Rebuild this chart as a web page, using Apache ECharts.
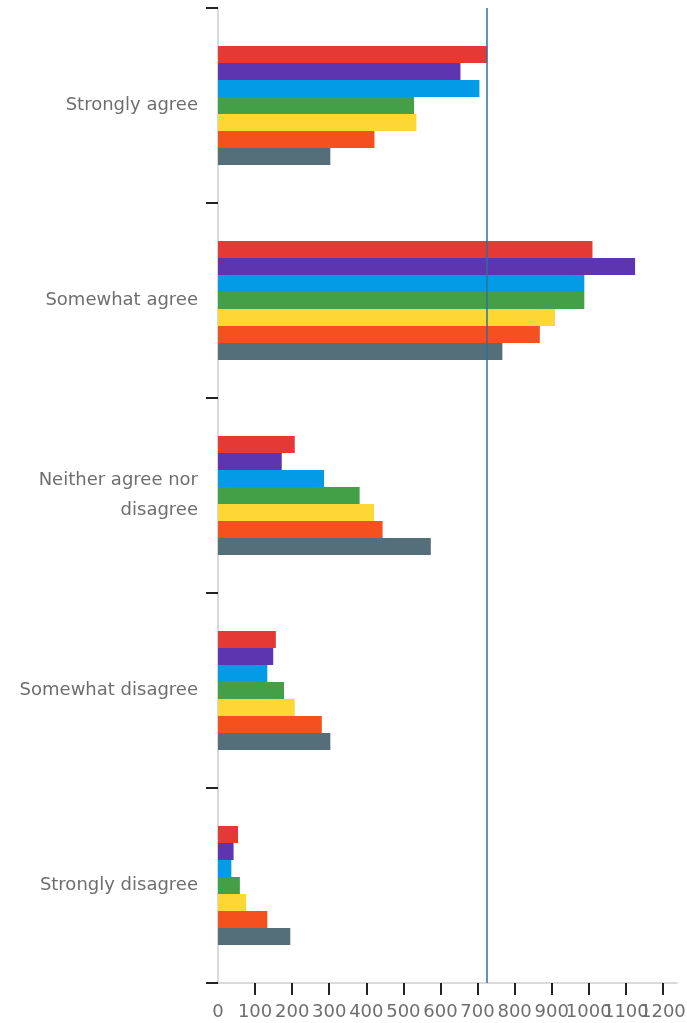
<!DOCTYPE html>
<html>
<head>
<meta charset="utf-8">
<script src="https://cdn.jsdelivr.net/npm/echarts@6/dist/echarts.min.js"></script>
<style>
html,body{margin:0;padding:0;background:#fff;}
#chart{width:687px;height:1023px;}
</style>
</head>
<body>
<div id="chart"></div>
<script>
const categories = ["Strongly agree", "Somewhat agree", "Neither agree nor disagree", "Somewhat disagree", "Strongly disagree"];
const seriesNames = ["S1", "S2", "S3", "S4", "S5", "S6", "S7"];
const s1 = [726, 1010, 207, 156, 54];
const s2 = [654, 1125, 172, 149, 42];
const s3 = [705, 988, 286, 133, 36];
const s4 = [529, 988, 382, 178, 59];
const s5 = [535, 909, 421, 207, 76];
const s6 = [422, 868, 444, 280, 133];
const s7 = [303, 767, 574, 303, 195];
const tickLabels = [0, 100, 200, 300, 400, 500, 600, 700, 800, 900, 1000, 1100, 1200];
const tickMarks = [100, 200, 300, 400, 500, 600, 700, 800, 900, 1000, 1100, 1200];
const referenceLine = 725;
const axisMax = 1238;

const colors = ["#e53935", "#5e35b1", "#039be5", "#43a047", "#fdd835", "#f4511e", "#546e7a"];
const allSeries = [s1, s2, s3, s4, s5, s6, s7];

const chart = echarts.init(document.getElementById('chart'), null, {renderer: 'canvas'});
const textStyle = {color: '#6e6e6e', fontFamily: 'DejaVu Sans', fontSize: 18};

// labels split over two overlaid axes so that touching labels are all kept
const labelsEven = tickLabels.filter((v, i) => i % 2 === 0);
const labelsOdd = tickLabels.filter((v, i) => i % 2 === 1);

const series = allSeries.map((d, i) => {
  const s = {
    name: seriesNames[i],
    type: 'bar',
    data: d,
    barGap: '0%',
    barCategoryGap: '39%',
    itemStyle: {color: colors[i]},
    emphasis: {disabled: true}
  };
  if (i === 0) {
    s.markLine = {
      silent: true,
      symbol: 'none',
      label: {show: false},
      lineStyle: {color: '#2f6f9a', width: 1.5, type: 'solid'},
      data: [{xAxis: referenceLine}]
    };
  }
  return s;
});

function labelCfg(values) {
  return Object.assign({
    margin: 20,
    customValues: values,
    showMaxLabel: true,
    showMinLabel: true,
    hideOverlap: false,
    formatter: v => String(v)
  }, textStyle);
}

chart.setOption({
  animation: false,
  grid: {left: 218, right: 10, top: 8, bottom: 40, containLabel: false, outerBoundsMode: 'none'},
  xAxis: [{
    type: 'value',
    min: 0,
    max: axisMax,
    position: 'bottom',
    splitLine: {show: false},
    axisLine: {show: true, lineStyle: {color: '#dadada', width: 2}},
    axisTick: {show: true, length: 12, lineStyle: {color: '#222', width: 2}, customValues: tickMarks},
    axisLabel: labelCfg(labelsEven)
  }, {
    type: 'value',
    min: 0,
    max: axisMax,
    position: 'bottom',
    offset: 0,
    splitLine: {show: false},
    axisLine: {show: false},
    axisTick: {show: false},
    axisLabel: labelCfg(labelsOdd)
  }],
  yAxis: {
    type: 'category',
    data: categories,
    inverse: true,
    axisLine: {show: true, lineStyle: {color: '#dadada', width: 2}},
    axisTick: {show: true, length: 12, lineStyle: {color: '#222', width: 2}},
    axisLabel: Object.assign({
      margin: 20,
      lineHeight: 30,
      align: 'right',
      padding: [4, 0, 0, 0],
      formatter: v => v.replace(' nor ', ' nor\n')
    }, textStyle)
  },
  series: series
});
</script>
</body>
</html>
